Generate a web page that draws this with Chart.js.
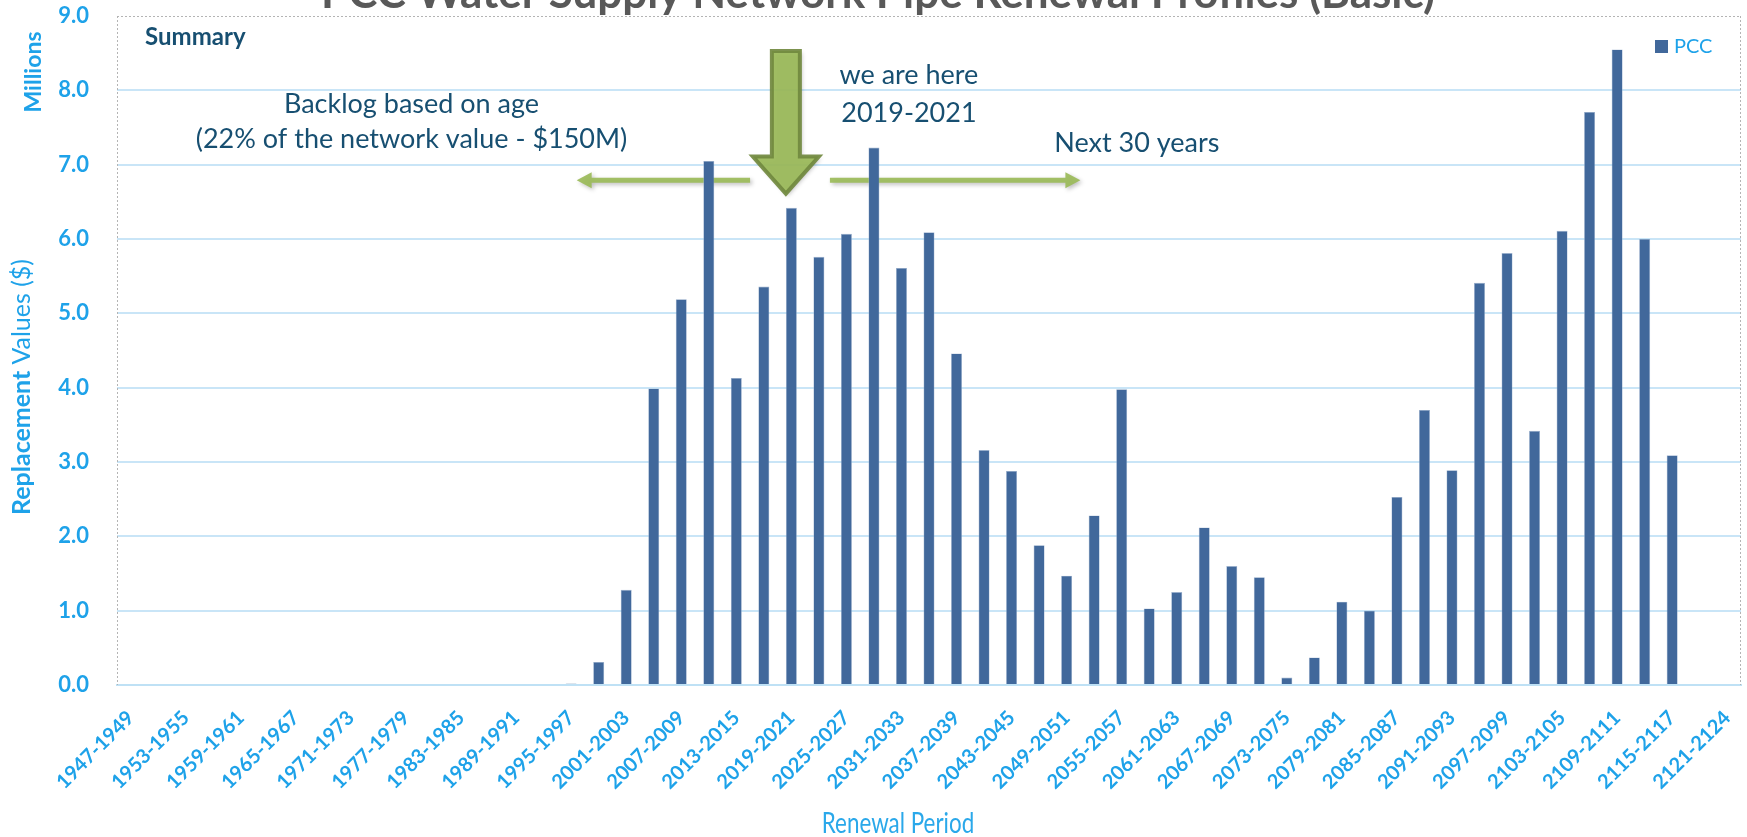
<!DOCTYPE html>
<html>
<head>
<meta charset="utf-8">
<script src="https://cdn.jsdelivr.net/npm/chart.js@4.4.1/dist/chart.umd.min.js"></script>
<style>
  html, body { margin: 0; padding: 0; background: #ffffff; }
  #wrap { width: 1747px; height: 837px; position: relative; }
</style>
</head>
<body>
<div id="wrap"><canvas id="chart"></canvas></div>
<script>
// Three-year renewal periods
const periods = [
  '1947-1949','1950-1952','1953-1955','1956-1958','1959-1961','1962-1964','1965-1967','1968-1970',
  '1971-1973','1974-1976','1977-1979','1980-1982','1983-1985','1986-1988','1989-1991','1992-1994',
  '1995-1997','1998-2000','2001-2003','2004-2006','2007-2009','2010-2012','2013-2015','2016-2018',
  '2019-2021','2022-2024','2025-2027','2028-2030','2031-2033','2034-2036','2037-2039','2040-2042',
  '2043-2045','2046-2048','2049-2051','2052-2054','2055-2057','2058-2060','2061-2063','2064-2066',
  '2067-2069','2070-2072','2073-2075','2076-2078','2079-2081','2082-2084','2085-2087','2088-2090',
  '2091-2093','2094-2096','2097-2099','2100-2102','2103-2105','2106-2108','2109-2111','2112-2114',
  '2115-2117','2118-2120','2121-2124'
];

// PCC pipe replacement value per period (millions of $)
const pccValues = [
  0, 0, 0, 0, 0, 0, 0, 0,
  0, 0, 0, 0, 0, 0, 0, 0,
  0.02, 0.31, 1.28, 3.99, 5.19, 7.05, 4.13, 5.36,
  6.42, 5.76, 6.07, 7.23, 5.61, 6.09, 4.46, 3.16,
  2.88, 1.88, 1.47, 2.28, 3.98, 1.03, 1.25, 2.12,
  1.60, 1.45, 0.10, 0.37, 1.12, 1.00, 2.53, 3.70,
  2.89, 5.41, 5.81, 3.42, 6.11, 7.71, 8.55, 6.00,
  3.09, 0, 0
];

// Every other period gets a visible tick label
const xTickLabels = periods.filter((p, i) => i % 2 === 0);

const seriesName = 'PCC';
const chartTitle = 'PCC Water Supply Network Pipe Renewal Profiles (Basic)';

const BAR = '#41689b';
const TICK = '#1ea2e9';
const GRID = '#c9e5f7';
const NOTE = '#174f71';
const GREEN = '#9bbb59';
const GREEN_DARK = '#71893f';

// Annotation shapes and notes, positioned in data space (category index, value)
const annotationPlugin = {
  id: 'notes',
  beforeDatasetsDraw(chart) {
    const { ctx, chartArea: a, scales: { x, y } } = chart;
    const px = i => x.getPixelForValue(i);
    const py = v => y.getPixelForValue(v);
    ctx.save();

    // dotted frame on top, left and right of the plot
    ctx.strokeStyle = '#b4b4b4';
    ctx.lineWidth = 1;
    ctx.setLineDash([2, 2]);
    ctx.beginPath();
    ctx.moveTo(a.left, a.top + 0.5);
    ctx.lineTo(a.right, a.top + 0.5);
    ctx.moveTo(a.right - 0.5, a.top);
    ctx.lineTo(a.right - 0.5, a.bottom);
    ctx.moveTo(a.left + 0.5, a.top);
    ctx.lineTo(a.left + 0.5, a.bottom);
    ctx.stroke();
    ctx.setLineDash([]);

    ctx.shadowColor = 'rgba(0,0,0,0.28)';
    ctx.shadowBlur = 4;
    ctx.shadowOffsetX = 2;
    ctx.shadowOffsetY = 2;
    ctx.globalAlpha = 0.92;

    // horizontal arrows (backlog / next 30 years)
    const ay = py(6.79);
    const hArrow = (from, to) => {
      const x0 = px(from), x1 = px(to);
      const dir = Math.sign(x1 - x0);
      ctx.fillStyle = GREEN;
      ctx.beginPath();
      ctx.moveTo(x0, ay - 2.5);
      ctx.lineTo(x1 - dir * 15, ay - 2.5);
      ctx.lineTo(x1 - dir * 15, ay - 8);
      ctx.lineTo(x1, ay);
      ctx.lineTo(x1 - dir * 15, ay + 8);
      ctx.lineTo(x1 - dir * 15, ay + 2.5);
      ctx.lineTo(x0, ay + 2.5);
      ctx.closePath();
      ctx.fill();
    };
    hArrow(22.5, 16.2);
    hArrow(25.4, 34.5);

    // big down arrow over the current period
    const cx = px(23.8);
    const top = py(8.53), neck = py(7.11), tip = py(6.61);
    ctx.beginPath();
    ctx.moveTo(cx - 14, top);
    ctx.lineTo(cx + 14, top);
    ctx.lineTo(cx + 14, neck);
    ctx.lineTo(cx + 33, neck);
    ctx.lineTo(cx, tip);
    ctx.lineTo(cx - 33, neck);
    ctx.lineTo(cx - 14, neck);
    ctx.closePath();
    ctx.fillStyle = GREEN;
    ctx.fill();
    ctx.shadowColor = 'transparent';
    ctx.lineWidth = 4;
    ctx.lineJoin = 'miter';
    ctx.strokeStyle = GREEN_DARK;
    ctx.stroke();
    ctx.restore();
  },
  afterDraw(chart) {
    const { ctx, scales: { x, y } } = chart;
    const px = i => x.getPixelForValue(i);
    const py = v => y.getPixelForValue(v);
    ctx.save();

    // title (partly above the canvas top)
    ctx.fillStyle = '#595959';
    ctx.font = 'bold 44px Lato';
    ctx.textAlign = 'center';
    ctx.textBaseline = 'alphabetic';
    ctx.fillText(chartTitle, 878, 8);

    // notes
    ctx.fillStyle = NOTE;
    ctx.textBaseline = 'middle';
    ctx.font = 'bold 24px Lato';
    ctx.textAlign = 'left';
    ctx.fillText('Summary', px(0.52), py(8.72));
    ctx.font = '27px Lato';
    ctx.textAlign = 'center';
    ctx.fillText('Backlog based on age', px(10.2), py(7.81));
    ctx.fillText('(22% of the network value - $150M)', px(10.2), py(7.34));
    ctx.fillText('we are here', px(28.27), py(8.2));
    ctx.fillText('2019-2021', px(28.27), py(7.69));
    ctx.fillText('Next 30 years', px(36.55), py(7.29));

    // legend
    ctx.fillStyle = BAR;
    ctx.fillRect(1655, 40, 13, 13);
    ctx.fillStyle = TICK;
    ctx.font = '20px Lato';
    ctx.textAlign = 'left';
    ctx.fillText(seriesName, 1674, 47);

    // y axis titles
    ctx.translate(22, 387);
    ctx.rotate(-Math.PI / 2);
    ctx.font = 'bold 25px Lato';
    const w1 = ctx.measureText('Replacement ').width;
    ctx.font = '25px Lato';
    const w2 = ctx.measureText('Values ($)').width;
    const start = -(w1 + w2) / 2;
    ctx.textAlign = 'left';
    ctx.font = 'bold 25px Lato';
    ctx.fillText('Replacement ', start, 0);
    ctx.font = '25px Lato';
    ctx.fillText('Values ($)', start + w1, 0);
    ctx.setTransform(1, 0, 0, 1, 0, 0);
    ctx.translate(34, 72);
    ctx.rotate(-Math.PI / 2);
    ctx.textAlign = 'center';
    ctx.font = 'bold 23px Lato';
    ctx.fillText('Millions', 0, 0);
    ctx.setTransform(1, 0, 0, 1, 0, 0);

    // x axis title (narrow lettering)
    ctx.fillStyle = '#2aa8ea';
    ctx.font = '28px Lato';
    ctx.textAlign = 'center';
    ctx.translate(898, 824);
    ctx.scale(0.8, 1);
    ctx.fillText('Renewal Period', 0, 0);
    ctx.restore();
  }
};

new Chart(document.getElementById('chart'), {
  type: 'bar',
  data: {
    labels: periods,
    datasets: [{
      label: seriesName,
      data: pccValues,
      backgroundColor: BAR,
      borderColor: '#9fb4d0',
      borderWidth: 0.6,
      barPercentage: 0.4,
      categoryPercentage: 1.0
    }]
  },
  options: {
    responsive: true,
    maintainAspectRatio: false,
    animation: false,
    layout: { padding: { left: 0, right: 6, top: 16, bottom: 0 } },
    plugins: {
      legend: { display: false },
      title: { display: false },
      tooltip: { enabled: false }
    },
    scales: {
      x: {
        offset: true,
        grid: { display: false, drawTicks: false },
        border: { display: true, color: '#bfe1f5', width: 2, dash: [3, 2] },
        ticks: {
          autoSkip: false,
          minRotation: 45,
          maxRotation: 45,
          padding: 21,
          color: TICK,
          font: { family: 'Lato', weight: 'bold', size: 20 },
          callback: (v, i) => (i % 2 === 0 ? xTickLabels[i / 2] : '')
        },
        afterFit: s => {
          s.height = 152;
          s.paddingLeft = 0;
          s.paddingRight = 0;
          s.paddingTop = 0;
        }
      },
      y: {
        min: 0,
        max: 9,
        ticks: {
          stepSize: 1,
          padding: 28,
          color: TICK,
          font: { family: 'Lato', weight: 'bold', size: 22, lineHeight: 1 },
          callback: v => v.toFixed(1)
        },
        grid: {
          drawTicks: false,
          lineWidth: 2,
          color: c => (c.tick && (c.tick.value === 0 || c.tick.value === 9)) ? 'rgba(0,0,0,0)' : GRID
        },
        border: { display: false },
        afterFit: s => {
          s.width = 117;
          s.paddingTop = 0;
          s.paddingBottom = 0;
        }
      }
    }
  },
  plugins: [annotationPlugin]
});
</script>
</body>
</html>
